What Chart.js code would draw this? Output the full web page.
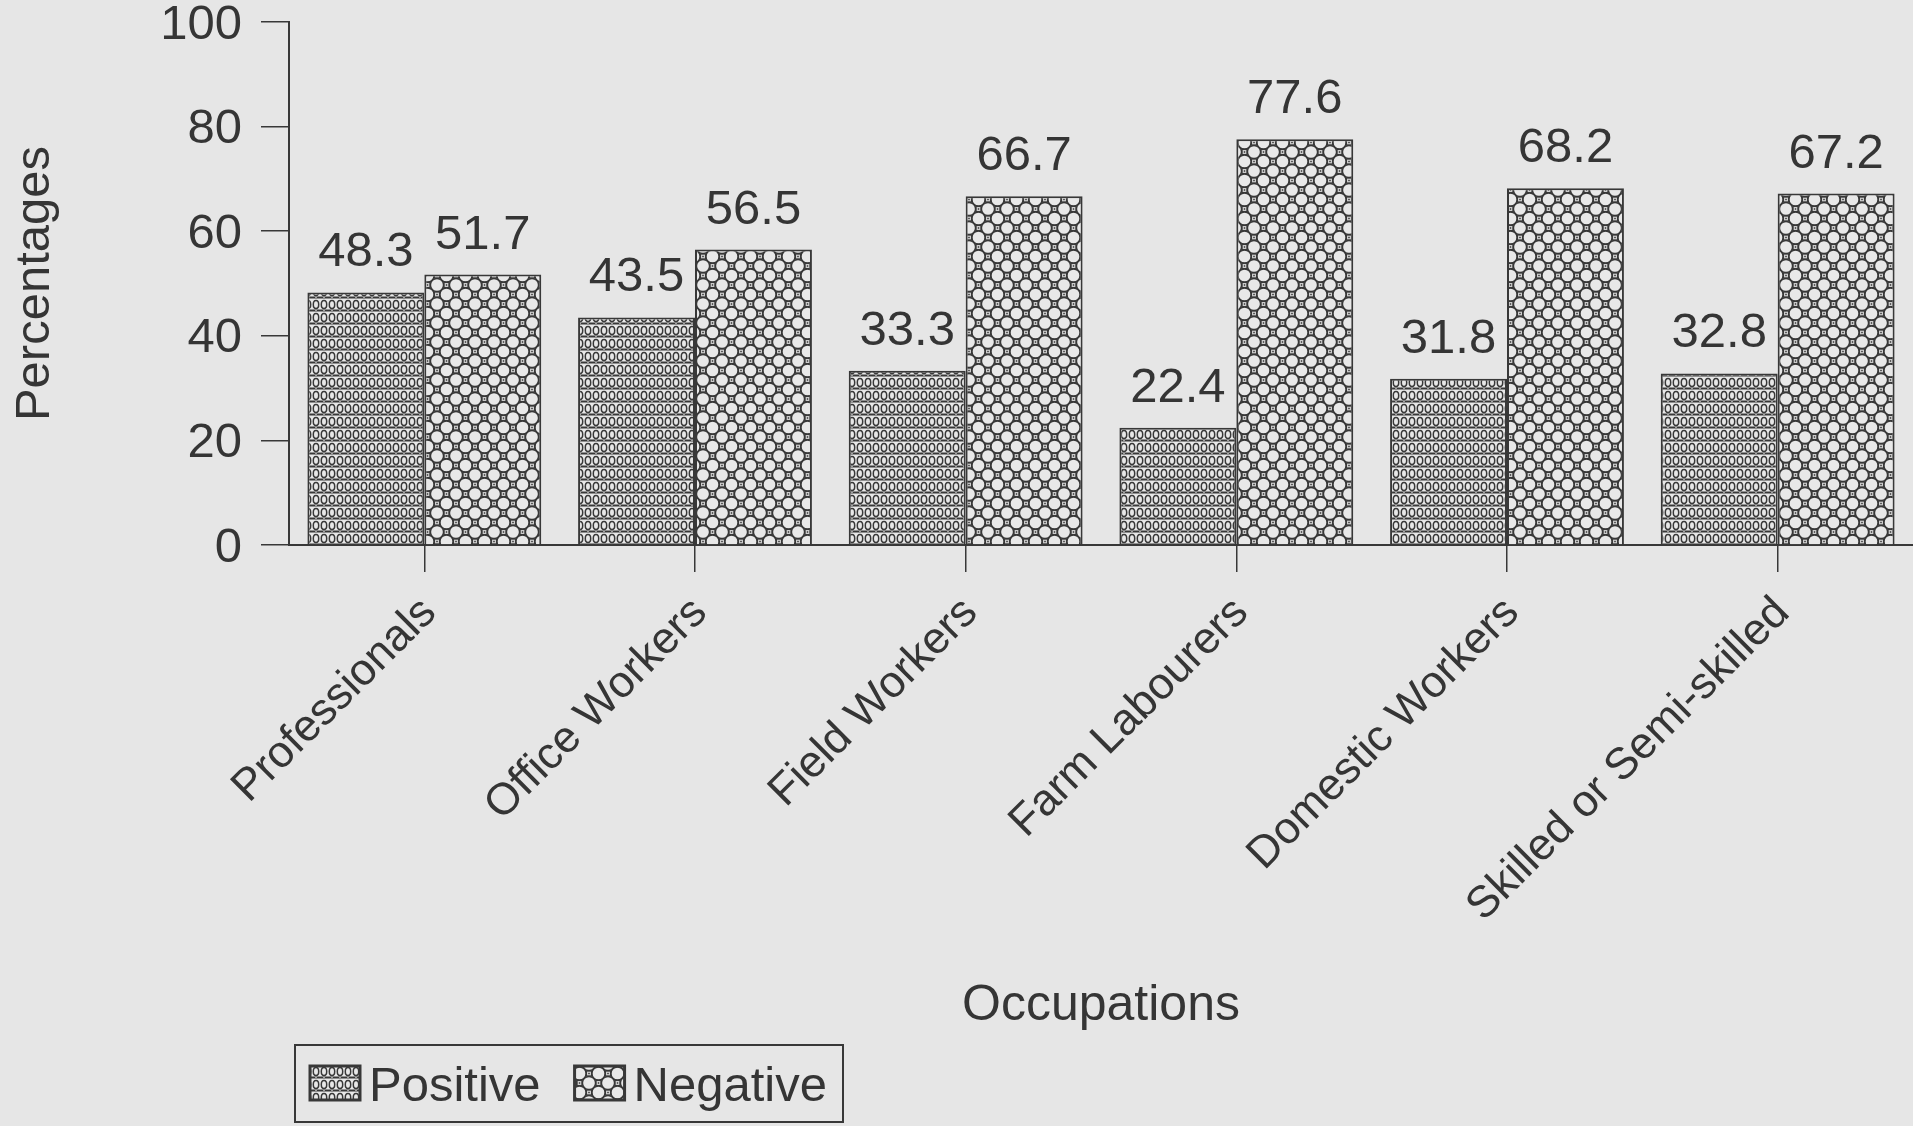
<!DOCTYPE html>
<html>
<head>
<meta charset="utf-8">
<title>Attitudes by occupation</title>
<script src="https://cdn.jsdelivr.net/npm/chart.js@4.4.1/dist/chart.umd.min.js"></script>
<style>
  html, body { margin: 0; padding: 0; background: #e6e6e6; }
  #wrap { width: 1913px; height: 1126px; }
  canvas { display: block; }
</style>
</head>
<body>
<div id="wrap"><canvas id="chart" width="1913" height="1126"></canvas></div>
<script>
// ---- data ----
const occupations = ['Professionals', 'Office Workers', 'Field Workers', 'Farm Labourers', 'Domestic Workers', 'Skilled or Semi-skilled'];
const positive = [48.3, 43.5, 33.3, 22.4, 31.8, 32.8];
const negative = [51.7, 56.5, 66.7, 77.6, 68.2, 67.2];
const yTickValues = [0, 20, 40, 60, 80, 100];
const seriesNames = ['Positive', 'Negative'];

// ---- look ----
const INK = '#383838';
const TEXT = '#353535';
const PAPER = '#e8e8e8';
const FONT = '"Liberation Sans", Arial, Helvetica, sans-serif';

// Rows of small upright rings separated by broken rules
function ringRowsPattern() {
  const w = 8, h = 13;
  const t = document.createElement('canvas');
  t.width = w; t.height = h;
  const g = t.getContext('2d');
  g.fillStyle = PAPER; g.fillRect(0, 0, w, h);
  g.strokeStyle = INK; g.lineWidth = 1.5;
  g.beginPath(); g.ellipse(4, 5.5, 2.7, 4.0, 0, 0, Math.PI * 2); g.stroke();
  g.fillStyle = INK; g.fillRect(0, 10.5, w, 2.0);
  g.fillStyle = PAPER; g.fillRect(3.4, 11.0, 1.2, 1.0);
  return g.createPattern(t, 'repeat');
}

// Diagonal lattice of rings with small boxed dots in the gaps
function ringLatticePattern() {
  const s = 19, hs = s / 2, r = 6.6, q = 2.5;
  const t = document.createElement('canvas');
  t.width = s; t.height = s;
  const g = t.getContext('2d');
  g.fillStyle = PAPER; g.fillRect(0, 0, s, s);
  g.strokeStyle = INK; g.lineWidth = 1.5;
  [[0, 0], [s, 0], [0, s], [s, s], [hs, hs]].forEach(([cx, cy]) => {
    g.beginPath(); g.arc(cx, cy, r, 0, Math.PI * 2); g.stroke();
  });
  g.lineWidth = 1.3;
  [[hs, 0], [hs, s], [0, hs], [s, hs]].forEach(([cx, cy]) => {
    g.strokeRect(cx - q, cy - q, q * 2, q * 2);
    g.fillStyle = INK; g.fillRect(cx - 0.8, cy - 0.8, 1.6, 1.6);
  });
  return g.createPattern(t, 'repeat');
}

// Value printed above every bar
const valueLabels = {
  id: 'valueLabels',
  afterDatasetsDraw(chart) {
    const ctx = chart.ctx;
    ctx.save();
    ctx.font = '49px ' + FONT;
    ctx.fillStyle = TEXT;
    ctx.textAlign = 'center';
    ctx.textBaseline = 'alphabetic';
    chart.data.datasets.forEach((ds, i) => {
      chart.getDatasetMeta(i).data.forEach((bar, j) => {
        ctx.fillText(ds.data[j].toFixed(1), bar.x, bar.y - 26);
      });
    });
    ctx.restore();
  }
};

// Framed legend under the axis title
const boxLegend = {
  id: 'boxLegend',
  afterDraw(chart, args, o) {
    const ctx = chart.ctx;
    ctx.save();
    ctx.strokeStyle = INK;
    ctx.lineWidth = 2;
    ctx.strokeRect(o.x, o.y, o.w, o.h);
    ctx.font = '49px ' + FONT;
    ctx.textBaseline = 'alphabetic';
    ctx.textAlign = 'left';
    let x = o.x + 15;
    chart.data.datasets.forEach(ds => {
      ctx.fillStyle = ds.backgroundColor;
      ctx.fillRect(x, o.swatchY, o.swatchW, o.swatchH);
      ctx.lineWidth = 3;
      ctx.strokeStyle = INK;
      ctx.strokeRect(x, o.swatchY, o.swatchW, o.swatchH);
      x += o.swatchW + 9;
      ctx.fillStyle = TEXT;
      ctx.fillText(ds.label, x, o.baseline);
      x += ctx.measureText(ds.label).width + 34;
    });
    ctx.restore();
  }
};

const chart = new Chart(document.getElementById('chart'), {
  type: 'bar',
  data: {
    labels: occupations,
    datasets: [
      { label: seriesNames[0], data: positive, backgroundColor: ringRowsPattern(), borderColor: INK, borderWidth: 2 },
      { label: seriesNames[1], data: negative, backgroundColor: ringLatticePattern(), borderColor: INK, borderWidth: 2 }
    ]
  },
  options: {
    responsive: false,
    maintainAspectRatio: false,
    devicePixelRatio: 1,
    animation: false,
    datasets: { bar: { categoryPercentage: 0.864, barPercentage: 1.0 } },
    layout: { padding: { top: 0, left: 0, right: 0, bottom: 83 } },
    plugins: {
      legend: { display: false },
      tooltip: { enabled: false },
      boxLegend: { x: 295, y: 1045, w: 548, h: 77, swatchY: 1066, swatchW: 50, swatchH: 34, baseline: 1101 }
    },
    scales: {
      x: {
        offset: true,
        grid: { offset: false, drawOnChartArea: false, drawTicks: true, tickLength: 27, color: INK, lineWidth: 1.5 },
        border: { color: INK, width: 2 },
        ticks: {
          autoSkip: false, minRotation: 45, maxRotation: 45, padding: 15, labelOffset: 5,
          color: TEXT, font: { family: FONT, size: 44.5 }
        },
        title: {
          display: true, text: 'Occupations', color: TEXT,
          font: { family: FONT, size: 50 }, padding: { top: 0, bottom: 7 }
        },
        afterFit(s) { s.height = 498; s.paddingLeft = 0; s.paddingRight = 0; }
      },
      y: {
        min: 0, max: 100,
        grid: { drawOnChartArea: false, drawTicks: true, tickLength: 28, color: INK, lineWidth: 1.5 },
        border: { color: INK, width: 2 },
        ticks: { padding: 19, labelOffset: 3, color: TEXT, font: { family: FONT, size: 49 } },
        afterBuildTicks(s) { s.ticks = yTickValues.map(v => ({ value: v })); },
        title: {
          display: true, text: 'Percentages', color: TEXT,
          font: { family: FONT, size: 49 }, padding: { top: 6, bottom: 0 }
        },
        afterFit(s) { s.width = 289; s.paddingTop = 22; s.paddingBottom = 0; }
      }
    }
  },
  plugins: [valueLabels, boxLegend]
});
</script>
</body>
</html>
